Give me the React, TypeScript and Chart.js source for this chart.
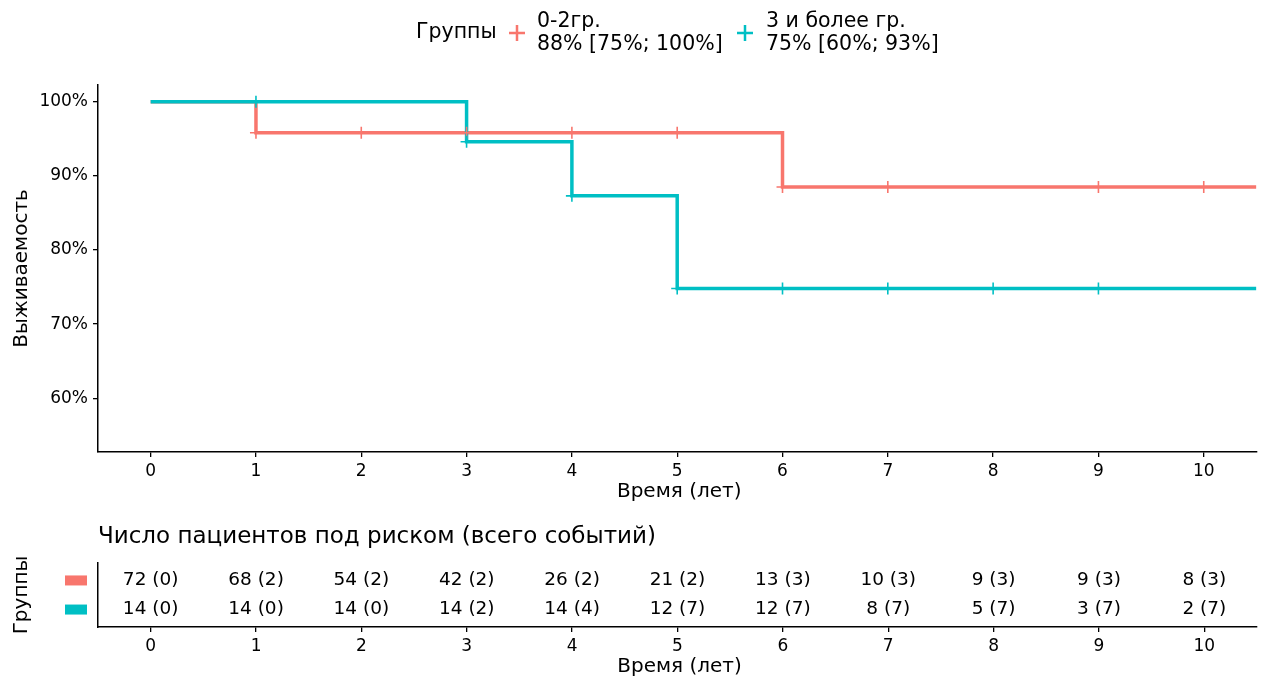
import React, { useEffect, useRef } from "react";
import { Chart, registerables } from "chart.js";

Chart.register(...registerables);

const FONT = "'DejaVu Sans', 'Liberation Sans', sans-serif";
const RED = "#F8766D";
const CYAN = "#00BFC4";
const INK = "#000000";

// Legend / labels
const legendTitle = "Группы";
const groupNames = ["0-2гр.", "3 и более гр."];
const groupStats = ["88% [75%; 100%]", "75% [60%; 93%]"];
const yAxisTitle = "Выживаемость";
const xAxisTitle = "Время (лет)";
const riskTitle = "Число пациентов под риском (всего событий)";

// Ticks
const timeTicks = [0, 1, 2, 3, 4, 5, 6, 7, 8, 9, 10];
const survTicks = [60, 70, 80, 90, 100];

// Kaplan–Meier steps (time, survival %)
const redStepTimes = [0, 1, 6, 10.5];
const redStepSurv = [100, 95.8, 88.5, 88.5];
const cyanStepTimes = [0, 3, 4, 5, 10.5];
const cyanStepSurv = [100, 94.6, 87.3, 74.8, 74.8];

// Censoring marks
const redCensorTimes = [1, 2, 3, 4, 5, 6, 7, 9, 10];
const redCensorSurv = [95.8, 95.8, 95.8, 95.8, 95.8, 88.5, 88.5, 88.5, 88.5];
const cyanCensorTimes = [1, 3, 4, 5, 6, 7, 8, 9];
const cyanCensorSurv = [100, 94.6, 87.3, 74.8, 74.8, 74.8, 74.8, 74.8];

// Risk table
const redAtRisk = [72, 68, 54, 42, 26, 21, 13, 10, 9, 9, 8];
const redEvents = [0, 2, 2, 2, 2, 2, 3, 3, 3, 3, 3];
const cyanAtRisk = [14, 14, 14, 14, 14, 12, 12, 8, 5, 3, 2];
const cyanEvents = [0, 0, 0, 2, 4, 7, 7, 7, 7, 7, 7];

const pts = (xs: number[], ys: number[]) => xs.map((x, i) => ({ x, y: ys[i] }));

const xScale = (height: number) => ({
  type: "linear" as const,
  min: -0.5,
  max: 10.5,
  afterBuildTicks: (axis: any) => {
    axis.ticks = timeTicks.map((v) => ({ value: v }));
  },
  afterFit: (axis: any) => {
    axis.height = height;
  },
  ticks: {
    autoSkip: false,
    maxRotation: 0,
    padding: 4,
    color: INK,
    font: { family: FONT, size: 17 },
  },
  grid: {
    drawOnChartArea: false,
    drawTicks: true,
    tickLength: 5,
    color: "#000",
    lineWidth: 1.3,
  },
  border: { display: true, color: "#000", width: 1.5 },
});

export default function App() {
  const mainRef = useRef<HTMLCanvasElement>(null);
  const riskRef = useRef<HTMLCanvasElement>(null);

  useEffect(() => {
    const mainDecor = {
      id: "mainDecor",
      afterDraw(chart: any) {
        const ctx = chart.ctx as CanvasRenderingContext2D;
        const a = chart.chartArea;
        ctx.save();
        ctx.fillStyle = INK;
        ctx.textBaseline = "middle";
        // legend
        ctx.font = `20.5px ${FONT}`;
        ctx.textAlign = "left";
        ctx.fillText(legendTitle, 416, 33);
        const cross = (cx: number, cy: number, col: string) => {
          ctx.strokeStyle = col;
          ctx.lineWidth = 2.5;
          ctx.beginPath();
          ctx.moveTo(cx - 8, cy);
          ctx.lineTo(cx + 8, cy);
          ctx.moveTo(cx, cy - 8);
          ctx.lineTo(cx, cy + 8);
          ctx.stroke();
        };
        cross(517, 33, RED);
        ctx.fillText(groupNames[0], 537, 22);
        ctx.fillText(groupStats[0], 537, 45);
        cross(745, 33, CYAN);
        ctx.fillText(groupNames[1], 766, 22);
        ctx.fillText(groupStats[1], 766, 45);
        // axis titles
        ctx.font = `20px ${FONT}`;
        ctx.textAlign = "center";
        ctx.fillText(xAxisTitle, (a.left + a.right) / 2 + 2, 492);
        ctx.save();
        ctx.translate(22, (a.top + a.bottom) / 2);
        ctx.rotate(-Math.PI / 2);
        ctx.fillText(yAxisTitle, 0, 0);
        ctx.restore();
        ctx.restore();
      },
    };

    const c1 = new Chart(mainRef.current!, {
      type: "line",
      data: {
        datasets: [
          {
            type: "scatter",
            data: pts(cyanCensorTimes, cyanCensorSurv),
            pointStyle: "cross",
            pointRadius: 6,
            borderColor: CYAN,
            backgroundColor: CYAN,
            borderWidth: 1.6,
            order: 0,
          } as any,
          {
            type: "scatter",
            data: pts(redCensorTimes, redCensorSurv),
            pointStyle: "cross",
            pointRadius: 6,
            borderColor: RED,
            backgroundColor: RED,
            borderWidth: 1.6,
            order: 1,
          },
          {
            type: "line",
            data: pts(cyanStepTimes, cyanStepSurv),
            stepped: "before",
            borderColor: CYAN,
            borderWidth: 3.5,
            pointRadius: 0,
            fill: false,
            borderJoinStyle: "miter",
            borderCapStyle: "butt",
            order: 2,
          },
          {
            type: "line",
            data: pts(redStepTimes, redStepSurv),
            stepped: "before",
            borderColor: RED,
            borderWidth: 3.5,
            pointRadius: 0,
            fill: false,
            borderJoinStyle: "miter",
            borderCapStyle: "butt",
            order: 3,
          },
        ],
      },
      options: {
        responsive: false,
        animation: false,
        devicePixelRatio: 1,
        layout: { padding: { left: 0, right: 7, top: 85, bottom: 0 } },
        plugins: {
          legend: { display: false },
          tooltip: { enabled: false },
          title: { display: false },
        },
        scales: {
          x: xScale(58),
          y: {
            type: "linear",
            min: 52.75,
            max: 102.25,
            afterBuildTicks: (axis: any) => {
              axis.ticks = survTicks.map((v) => ({ value: v }));
            },
            afterFit: (axis: any) => {
              axis.width = 98;
            },
            ticks: {
              padding: 5,
              color: INK,
              font: { family: FONT, size: 17 },
              callback: (v: any) => `${v}%`,
            },
            grid: {
              drawOnChartArea: false,
              drawTicks: true,
              tickLength: 5,
              color: "#000",
              lineWidth: 1.3,
            },
            border: { display: true, color: "#000", width: 1.5 },
          },
        },
      } as any,
      plugins: [mainDecor],
    });

    const riskLabels = [
      redAtRisk.map((n, i) => `${n} (${redEvents[i]})`),
      cyanAtRisk.map((n, i) => `${n} (${cyanEvents[i]})`),
    ];
    const riskColors = [RED, CYAN];

    const riskDecor = {
      id: "riskDecor",
      afterDatasetsDraw(chart: any) {
        const ctx = chart.ctx as CanvasRenderingContext2D;
        const a = chart.chartArea;
        ctx.save();
        ctx.fillStyle = INK;
        ctx.textBaseline = "middle";
        ctx.textAlign = "center";
        ctx.font = `18.5px ${FONT}`;
        chart.data.datasets.forEach((_: any, di: number) => {
          const meta = chart.getDatasetMeta(di);
          meta.data.forEach((el: any, j: number) => {
            ctx.fillText(riskLabels[di][j], el.x, el.y);
          });
          // color key
          const yy = meta.data[0].y;
          ctx.fillStyle = riskColors[di];
          ctx.fillRect(65, yy - 5, 22, 10);
          ctx.fillStyle = INK;
        });
        // title
        ctx.textAlign = "left";
        ctx.font = `23px ${FONT}`;
        ctx.fillText(riskTitle, a.left, 27);
        // axis titles
        ctx.font = `20px ${FONT}`;
        ctx.textAlign = "center";
        ctx.fillText(xAxisTitle, (a.left + a.right) / 2 + 2, 157);
        ctx.font = `20px ${FONT}`;
        ctx.save();
        ctx.translate(22, (a.top + a.bottom) / 2);
        ctx.rotate(-Math.PI / 2);
        ctx.fillText(legendTitle, 0, 0);
        ctx.restore();
        ctx.restore();
      },
    };

    const c2 = new Chart(riskRef.current!, {
      type: "scatter",
      data: {
        datasets: [
          {
            data: timeTicks.map((t) => ({ x: t, y: 2 })),
            pointRadius: 0,
            borderWidth: 0,
          },
          {
            data: timeTicks.map((t) => ({ x: t, y: 1 })),
            pointRadius: 0,
            borderWidth: 0,
          },
        ],
      },
      options: {
        responsive: false,
        animation: false,
        devicePixelRatio: 1,
        layout: { padding: { left: 0, right: 7, top: 53, bottom: 0 } },
        plugins: {
          legend: { display: false },
          tooltip: { enabled: false },
          title: { display: false },
        },
        scales: {
          x: xScale(57),
          y: {
            type: "linear",
            min: 0.4,
            max: 2.6,
            afterFit: (axis: any) => {
              axis.width = 98;
            },
            ticks: { display: false },
            grid: { display: false, drawTicks: false },
            border: { display: true, color: "#000", width: 1.5 },
          },
        },
      } as any,
      plugins: [riskDecor],
    });

    return () => {
      c1.destroy();
      c2.destroy();
    };
  }, []);

  return (
    <div
      style={{
        position: "absolute",
        left: 0,
        top: 0,
        width: 1264,
        height: 684,
        background: "#ffffff",
      }}
    >
      <canvas
        ref={mainRef}
        width={1264}
        height={510}
        style={{ position: "absolute", left: 0, top: 0, display: "block" }}
      />
      <canvas
        ref={riskRef}
        width={1264}
        height={174}
        style={{ position: "absolute", left: 0, top: 510, display: "block" }}
      />
    </div>
  );
}
